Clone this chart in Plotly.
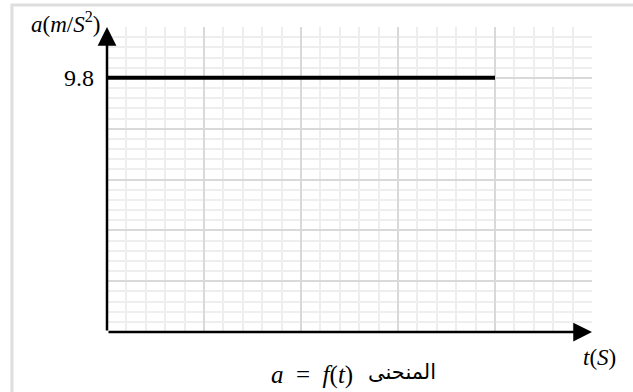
import plotly.graph_objects as go

# Free-fall acceleration against time
t_values = [0, 4]
a_values = [9.8, 9.8]

# Axis extents and grid spacing (major / minor)
t_max = 5
t_major = 1
t_minor = 0.2
a_max = 9.8 * 6 / 5
a_major = 9.8 / 5
a_minor = a_major / 5

y_tickvals = [round(i * a_major, 4) for i in range(7)]
y_ticktext = ["", "", "", "", "", "9.8", ""]

y_title = "<i>a</i>(<i>m</i>/<i>S</i><sup>2</sup>)"
x_title = "<i>t</i>(<i>S</i>)"
caption_math = "<i>a</i>\u2002=\u2002<i>f</i>(<i>t</i>)"
caption_word = "المنحنى"

serif = "Liberation Serif, DejaVu Serif, serif"

fig = go.Figure()
fig.add_trace(go.Scatter(
    x=t_values, y=a_values, mode="lines",
    line=dict(color="black", width=4), showlegend=False, hoverinfo="skip",
))

major_col = "#d9d9d9"
minor_col = "#eeeeee"

fig.update_xaxes(
    range=[0, t_max], tickmode="linear", tick0=0, dtick=t_major,
    showgrid=True, gridcolor=major_col, gridwidth=2,
    minor=dict(tickmode="linear", tick0=0, dtick=t_minor, showgrid=True,
               gridcolor=minor_col, gridwidth=2),
    showticklabels=False, ticks="", zeroline=False, showline=False,
    fixedrange=True,
)
fig.update_yaxes(
    range=[0, a_max], tickmode="array", tickvals=y_tickvals, ticktext=y_ticktext,
    showgrid=True, gridcolor=major_col, gridwidth=2,
    minor=dict(tickmode="linear", tick0=0, dtick=a_minor, showgrid=True,
               gridcolor=minor_col, gridwidth=2),
    ticks="", ticklabelstandoff=12, zeroline=False, showline=False,
    tickfont=dict(family=serif, size=24, color="black"),
    fixedrange=True,
)

annotations = [
    # vertical axis with arrow
    dict(x=0, y=a_max, ax=0, ay=0, xref="x", yref="y", axref="x", ayref="y",
         showarrow=True, arrowhead=2, arrowsize=1.5, arrowwidth=2.5,
         arrowcolor="black", text=""),
    # horizontal axis with arrow
    dict(x=t_max, y=0, ax=0, ay=0, xref="x", yref="y", axref="x", ayref="y",
         showarrow=True, arrowhead=2, arrowsize=1.5, arrowwidth=2.5,
         arrowcolor="black", text=""),
    dict(x=-0.01, y=1.0, xref="paper", yref="paper", text=y_title,
         showarrow=False, xanchor="right", yanchor="middle", yshift=5,
         font=dict(family=serif, size=23, color="black")),
    dict(x=1.0, y=-0.082, xref="paper", yref="paper", text=x_title,
         showarrow=False, xanchor="left", yanchor="middle", xshift=-11,
         font=dict(family=serif, size=23, color="black")),
    dict(x=0.512, y=-0.141, xref="paper", yref="paper", text=caption_math,
         showarrow=False, xanchor="right", yanchor="middle",
         font=dict(family=serif, size=25, color="black")),
    dict(x=0.535, y=-0.131, xref="paper", yref="paper", text=caption_word,
         showarrow=False, xanchor="left", yanchor="middle",
         font=dict(family="DejaVu Sans, sans-serif", size=21, color="black")),
]

# light frame round the whole figure (top and left edges fall inside the page)
border = dict(color="#dedede", width=3)
shapes = [
    dict(type="rect", xref="paper", yref="paper",
         x0=-0.196, x1=1.19, y0=-0.35, y1=1.072,
         line=border, fillcolor="rgba(0,0,0,0)", layer="above"),
]

fig.update_layout(
    width=633, height=392,
    margin=dict(l=107, r=41, t=27, b=60),
    paper_bgcolor="white", plot_bgcolor="white",
    annotations=annotations, shapes=shapes,
    showlegend=False,
)

fig.write_html("out.html")
